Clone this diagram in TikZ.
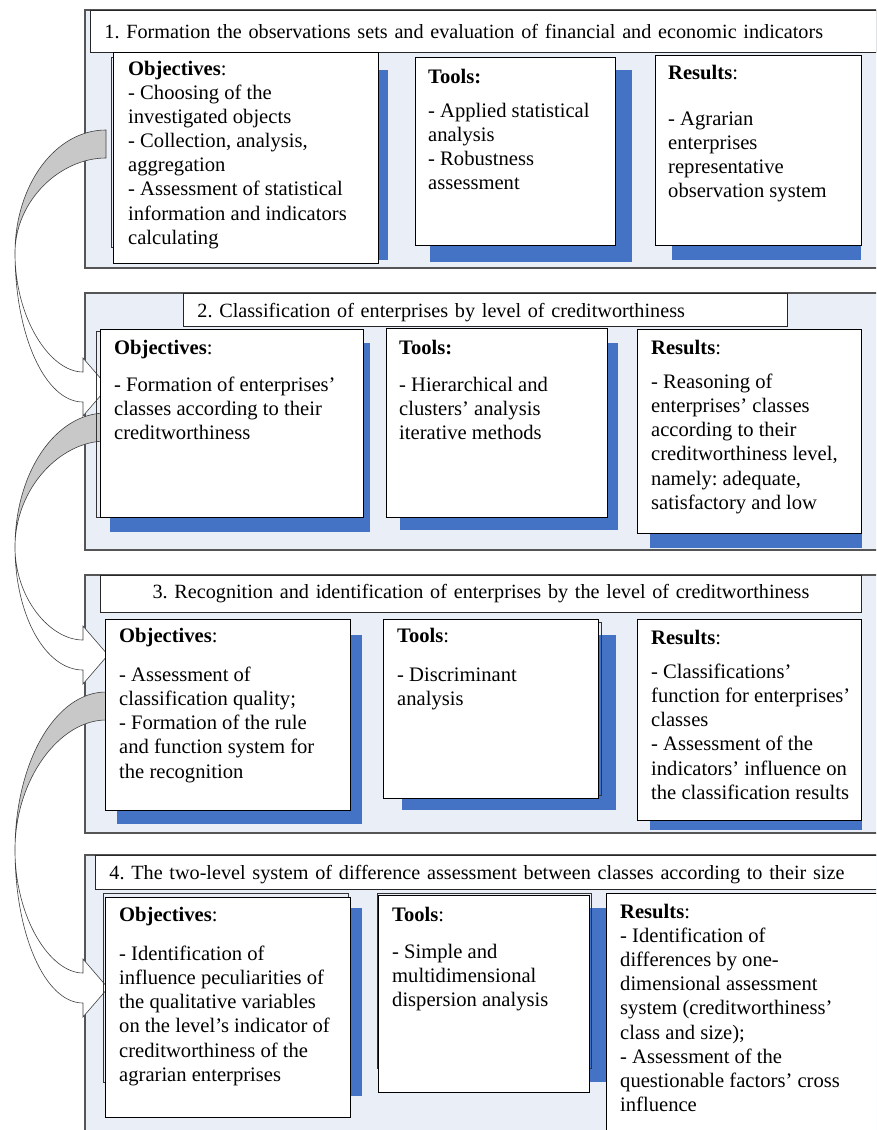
\documentclass[tikz,border=0pt]{standalone}
\usepackage{fontspec}
\setmainfont{Liberation Serif}
\usetikzlibrary{positioning,calc}
\definecolor{panelfill}{RGB}{233,238,247}
\definecolor{panelline}{RGB}{85,85,85}
\definecolor{shadowblue}{RGB}{68,114,196}
\definecolor{arrowgray}{RGB}{200,200,200}
\frenchspacing

\begin{document}
\begin{tikzpicture}[x=1pt,y=-1pt,
    panel/.style={draw=panelline, fill=panelfill, line width=1.3pt},
    title/.style={draw=black!85, fill=white, line width=0.9pt, anchor=north west,
                  inner xsep=14pt, inner ysep=0pt, align=left,
                  font=\fontsize{20.2}{24.1}\selectfont},
    card/.style={draw=black, fill=white, line width=0.9pt, anchor=north west,
                 inner sep=0pt, outer sep=0pt},
    ghost/.style={draw=black!80, line width=0.7pt},
    shade/.style={fill=shadowblue},
    txt/.style={anchor=north west, align=left, inner sep=0pt,
                font=\fontsize{20.6}{24.1}\selectfont},
    back/.style={draw=black!75, fill=arrowgray, line width=0.6pt},
    front/.style={draw=black!75, fill=white, line width=0.6pt}]

  \useasboundingbox (0,0) rectangle (876,1130);
  \clip (0,0) rectangle (876,1130);

  % stage panels
  \draw[panel] (85,10) rectangle (880,268);
  \draw[panel] (85,293) rectangle (880,550);
  \draw[panel] (85,575) rectangle (880,833);
  \draw[panel] (85,855) rectangle (880,1140);

  % bent arrows between stages
  \foreach \yt/\ym/\yc in {130/253/387, 413/547/655, 692/850/988}{
    \draw[back] (106,\yt) .. controls (55,\yt) and (15,{\ym-0.55*(\ym-\yt)}) .. (15,\ym)
      .. controls (15,{\ym-0.55*(\ym-\yt-28)}) and (60,{\yt+28}) .. (106,{\yt+28}) -- cycle;
    \draw[front] (15,\ym) .. controls (15,{\ym+0.55*(\yc-15-\ym)}) and (50,{\yc-15}) .. (83,{\yc-15})
      -- (83,{\yc-29}) -- (108,\yc) -- (83,{\yc+29}) -- (83,{\yc+15})
      .. controls (45,{\yc+15}) and (15,{\ym+0.55*(\yc+15-\ym)}) .. cycle;
  }

  % titles
  \node[title, minimum width=786, minimum height=42, text width=758] (T1) at (90,10)
    {1. Formation the observations sets and evaluation of financial and economic indicators};
  \node[title, minimum width=604, minimum height=33, text width=576, text depth=0pt] (T2) at (183,293)
    {2. Classification of enterprises by level of creditworthiness};
  \node[title, minimum width=761, minimum height=37, text width=733, align=center] (T3) at (100,575)
    {3. Recognition and identification of enterprises by the level of creditworthiness};
  \node[title, minimum width=786, minimum height=34, text width=758, text depth=0pt] (T4) at (95,855)
    {4. The two-level system of difference assessment between classes according to their size};

  % shadows
  \fill[shade] (125,70) rectangle (388,260);
  \fill[shade] (430,70) rectangle (632,262);
  \fill[shade] (672,70) rectangle (861,260);
  \fill[shade] (110,343) rectangle (370,532);
  \fill[shade] (400,343) rectangle (618,530);
  \fill[shade] (650,343) rectangle (862,548);
  \fill[shade] (117,635) rectangle (362,824);
  \fill[shade] (402,635) rectangle (616,810);
  \fill[shade] (650,635) rectangle (862,830);
  \fill[shade] (117,908) rectangle (362,1096);
  \fill[shade] (400,908) rectangle (606,1082);

  % second outlines
  \draw[ghost] (111,57) rectangle (375,247);
  \draw[ghost] (96,331) rectangle (360,517);
  \draw[ghost] (385,622) rectangle (601,795);
  \draw[ghost] (103,893) rectangle (348,1082);
  \draw[ghost] (377,893) rectangle (591,1068);

  % stage 1
  \node[card, minimum width=265, minimum height=211] (O1) at (113,52) {};
  \node[card, minimum width=200, minimum height=188] (S1) at (415,57) {};
  \node[card, minimum width=206, minimum height=190] (R1) at (655,55) {};
  \node[txt] at ([shift={(15,9)}]O1.north west) {\textbf{Objectives}:\\- Choosing of the\\investigated objects\\- Collection, analysis,\\aggregation\\- Assessment of statistical\\information and indicators\\calculating};
  \node[txt] at ([shift={(13,12)}]S1.north west) {\textbf{Tools:}\\[10pt]- Applied statistical\\analysis\\- Robustness\\assessment};
  \node[txt] at ([shift={(13,10)}]R1.north west) {\textbf{Results}:\\[22pt]- Agrarian\\enterprises\\representative\\observation system};

  % stage 2
  \node[card, minimum width=263, minimum height=188] (O2) at (100,329) {};
  \node[card, minimum width=221, minimum height=189] (S2) at (386,328) {};
  \node[card, minimum width=224, minimum height=204] (R2) at (637,329) {};
  \node[txt] at ([shift={(14,11)}]O2.north west) {\textbf{Objectives}:\\[13pt]- Formation of enterprises’\\classes according to their\\creditworthiness};
  \node[txt] at ([shift={(13,12)}]S2.north west) {\textbf{Tools:}\\[13pt]- Hierarchical and\\clusters’ analysis\\iterative methods};
  \node[txt] at ([shift={(14,11)}]R2.north west) {\textbf{Results}:\\[10pt]- Reasoning of\\enterprises’ classes\\according to their\\creditworthiness level,\\namely: adequate,\\satisfactory and low};

  % stage 3
  \node[card, minimum width=245, minimum height=191] (O3) at (105,619) {};
  \node[card, minimum width=215, minimum height=179] (S3) at (383,619) {};
  \node[card, minimum width=224, minimum height=201] (R3) at (637,619) {};
  \node[txt] at ([shift={(14,9)}]O3.north west) {\textbf{Objectives}:\\[15pt]- Assessment of\\classification quality;\\- Formation of the rule\\and function system for\\the recognition};
  \node[txt] at ([shift={(14,9)}]S3.north west) {\textbf{Tools}:\\[15pt]- Discriminant\\analysis};
  \node[txt] at ([shift={(14,11)}]R3.north west) {\textbf{Results}:\\[10pt]- Classifications’\\function for enterprises’\\classes\\- Assessment of the\\indicators’ influence on\\the classification results};

  % stage 4
  \node[card, minimum width=245, minimum height=220] (O4) at (105,897) {};
  \node[card, minimum width=211, minimum height=197] (S4) at (378,895) {};
  \node[card, minimum width=280, minimum height=250] (R4) at (606,893) {};
  \node[txt] at ([shift={(14,10)}]O4.north west) {\textbf{Objectives}:\\[15pt]- Identification of\\influence peculiarities of\\the qualitative variables\\on the level’s indicator of\\creditworthiness of the\\agrarian enterprises};
  \node[txt] at ([shift={(14,12)}]S4.north west) {\textbf{Tools}:\\[13pt]- Simple and\\multidimensional\\dispersion analysis};
  \node[txt] at ([shift={(14,11)}]R4.north west) {\textbf{Results}:\\- Identification of\\differences by one-\\dimensional assessment\\system (creditworthiness’\\class and size);\\- Assessment of the\\questionable factors’ cross\\influence};
\end{tikzpicture}
\end{document}
